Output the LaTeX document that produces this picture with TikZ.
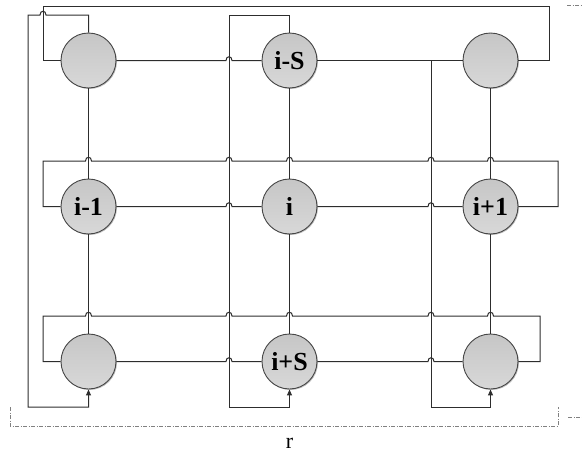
\documentclass[tikz,border=0pt]{standalone}
\usepackage{fontspec}
\setmainfont{Liberation Serif}
\usetikzlibrary{arrows.meta,shadows}
\definecolor{ntop}{RGB}{198,198,198}
\definecolor{nbot}{RGB}{216,216,216}
\definecolor{nline}{RGB}{70,70,70}
\definecolor{wline}{RGB}{45,45,45}
\begin{document}
\begin{tikzpicture}[x=1pt,y=-1pt,
  cell/.style={circle,minimum size=55pt,inner sep=0pt,draw=nline,line width=0.9pt,
    top color=ntop,bottom color=nbot,
    drop shadow={shadow xshift=1pt,shadow yshift=-1pt,opacity=0.25,fill=black},
    font=\fontsize{26}{26}\selectfont\bfseries},
  wire/.style={draw=wline,line width=1pt},
  feed/.style={wire,-{Triangle[length=6pt,width=5pt]}},
  bracket/.style={draw=gray,line width=0.8pt,dash pattern=on 4pt off 1.5pt on 1pt off 1.5pt},
  hopr/.style args={#1,#2}{insert path={-- (#1-3,#2) .. controls (#1-3,#2-5) and (#1+3,#2-5) .. (#1+3,#2)}},
  hopl/.style args={#1,#2}{insert path={-- (#1+3,#2) .. controls (#1+3,#2-5) and (#1-3,#2-5) .. (#1-3,#2)}}]
\useasboundingbox (0,0) rectangle (582,458);

% nodes
\node[cell] (n00) at (88.5,60.5) {};
\node[cell] (n01) at (289.5,60.5) {i-S};
\node[cell] (n02) at (490.5,60.5) {};
\node[cell] (n10) at (88.5,206.5) {i-1};
\node[cell] (n11) at (289.5,206.5) {i};
\node[cell] (n12) at (490.5,206.5) {i+1};
\node[cell] (n20) at (88.5,361.5) {};
\node[cell] (n21) at (289.5,361.5) {i+S};
\node[cell] (n22) at (490.5,361.5) {};

% column links
\draw[wire] (n00.south) -- (n10.north);
\draw[wire] (n10.south) -- (n20.north);
\draw[wire] (n01.south) -- (n11.north);
\draw[wire] (n11.south) -- (n21.north);
\draw[wire] (n02.south) -- (n12.north);
\draw[wire] (n12.south) -- (n22.north);

% row links
\draw[wire] (n00.east) [hopr={229,60.5}] -- (n01.west);
\draw[wire] (n01.east) -- (n02.west);
\draw[wire] (n10.east) [hopr={229,206.5}] -- (n11.west);
\draw[wire] (n11.east) [hopr={431,206.5}] -- (n12.west);
\draw[wire] (n20.east) [hopr={229,361.5}] -- (n21.west);
\draw[wire] (n21.east) [hopr={431,361.5}] -- (n22.west);

% row wrap-around
\draw[wire] (n00.west) -- (43,60.5) -- (43,6) -- (549,6) -- (549,60.5) -- (n02.east);
\draw[wire] (n10.west) -- (43,206.5) -- (43,161)
  [hopr={88.5,161}] [hopr={229,161}] [hopr={289.5,161}] [hopr={431,161}] [hopr={490.5,161}]
  -- (558,161) -- (558,206.5) -- (n12.east);
\draw[wire] (n20.west) -- (43,361.5) -- (43,316)
  [hopr={88.5,316}] [hopr={229,316}] [hopr={289.5,316}] [hopr={431,316}] [hopr={490.5,316}]
  -- (540,316) -- (540,361.5) -- (n22.east);

% column wrap-around
\coordinate (c2top) at (431,60.5);
\draw[feed] (n00.north) -- (88.5,15) [hopl={43,15}] -- (28,15) -- (28,407) -- (88.5,407) -- (n20.south);
\draw[feed] (n01.north) -- (289.5,15) -- (229,15) -- (229,407) -- (289.5,407) -- (n21.south);
\draw[feed] (c2top) -- (431,407) -- (490.5,407) -- (n22.south);

% bracket
\coordinate (bl) at (10,407);
\coordinate (br) at (558,407);
\draw[bracket] (bl) -- (10,426) -- (558,426) -- (br);
\coordinate (f1a) at (567,5);
\coordinate (f1b) at (582,5);
\coordinate (f2a) at (568,417);
\coordinate (f2b) at (582,417);
\draw[bracket] (f1a) -- (f1b);
\draw[bracket] (f2a) -- (f2b);
\node[font=\fontsize{22}{22}\selectfont] (r) at (289.5,443) {r};
\end{tikzpicture}
\end{document}
